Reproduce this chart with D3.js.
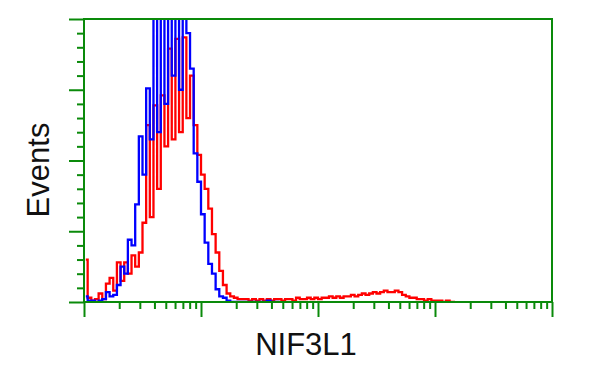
<!DOCTYPE html>
<html><head><meta charset="utf-8">
<script src="https://cdn.jsdelivr.net/npm/d3@7"></script>
<style>body{margin:0;background:#fff}svg{display:block}</style>
</head><body>
<script>
// Histogram counts per channel (128 log-spaced channels across 4 decades)
const blueCounts = [
 4,1,1,0,1,2,7,4,5,12, 25,20,44,40,69,117,90,151,115,230,
 120,240,140,235,160,240,150,230,190,165, 105,85,62,42,27,20,9,4,3,1,
 0,0,0,0,0,0,0,0,0,0, 1,0,0,0
];
const redCounts = [
 30,3,1,2,6,2,13,17,8,28, 15,28,20,33,25,35,56,125,60,139,
 80,146,110,179,115,186,120,187,130,160, 125,104,90,80,66,48,35,22,12,6,
 4,3,2,2,2,1,2,1,2,1, 2,1,2,2,1,2,2,1,3,2,
 2,3,2,3,2,3,3,4,3,4, 3,4,4,5,4,5,6,5,6,7,
 6,7,8,7,7,8,7,5,4,3, 3,2,2,1,2,1,1,1,0,1,
 0,0
];
const channelCount = 128;
const xDecades = [1, 10, 100, 1000, 10000];
const yMajorTicks = [0, 50, 100, 150, 200];
const yMinorTicks = [10,20,30,40,60,70,80,90,110,120,130,140,160,170,180,190];
const xLabel = "NIF3L1";
const yLabel = "Events";

const W = 600, H = 375;
const L = 84, R = 552, T = 19, B = 302;
const green = "#0a8a0a";

const svg = d3.select("body").append("svg").attr("width", W).attr("height", H);

const xLog = d3.scaleLog().domain([1, 10000]).range([L, R]);
const xCh = d3.scaleLinear().domain([0, channelCount]).range([L, R]);
const y = d3.scaleLinear().domain([0, 200]).range([B, T]);

svg.append("defs").append("clipPath").attr("id", "plot")
  .append("rect").attr("x", L).attr("y", T).attr("width", R - L).attr("height", B - T);

const line = d3.line()
  .x((d, i) => xCh(i + 0.5))
  .y(d => y(d))
  .curve(d3.curveStep);

const g = svg.append("g").attr("clip-path", "url(#plot)");
g.append("path").datum(redCounts).attr("d", line)
  .attr("fill", "none").attr("stroke", "#ff0000").attr("stroke-width", 2.3);
g.append("path").datum(blueCounts).attr("d", line)
  .attr("fill", "none").attr("stroke", "#0000ff").attr("stroke-width", 2.3);

function styleAxis(sel) {
  sel.select(".domain").remove();
  sel.selectAll(".tick line").attr("stroke", green).attr("stroke-width", 2);
  sel.selectAll(".tick text").remove();
}

// Y axis
svg.append("g").attr("transform", `translate(${L},0)`)
  .call(d3.axisLeft(y).tickValues(yMajorTicks).tickSize(15).tickFormat(""))
  .call(styleAxis);
svg.append("g").attr("transform", `translate(${L},0)`)
  .call(d3.axisLeft(y).tickValues(yMinorTicks).tickSize(7).tickFormat(""))
  .call(styleAxis);

// X axis
const minorX = xLog.ticks().filter(v => !xDecades.includes(v));
svg.append("g").attr("transform", `translate(0,${B})`)
  .call(d3.axisBottom(xLog).tickValues(xDecades).tickSize(15).tickFormat(""))
  .call(styleAxis);
svg.append("g").attr("transform", `translate(0,${B})`)
  .call(d3.axisBottom(xLog).tickValues(minorX).tickSize(7).tickFormat(""))
  .call(styleAxis);

// Frame
svg.append("rect").attr("x", L).attr("y", T).attr("width", R - L).attr("height", B - T)
  .attr("fill", "none").attr("stroke", green).attr("stroke-width", 2);

// Labels
svg.append("text").attr("x", 306).attr("y", 355).attr("text-anchor", "middle")
  .attr("font-family", "Liberation Sans, Arial, sans-serif").attr("font-size", 31)
  .attr("fill", "#111").text(xLabel);
svg.append("text").attr("transform", "translate(49,170) rotate(-90)").attr("text-anchor", "middle")
  .attr("font-family", "Liberation Sans, Arial, sans-serif").attr("font-size", 31)
  .attr("fill", "#111").text(yLabel);
</script>
</body></html>
